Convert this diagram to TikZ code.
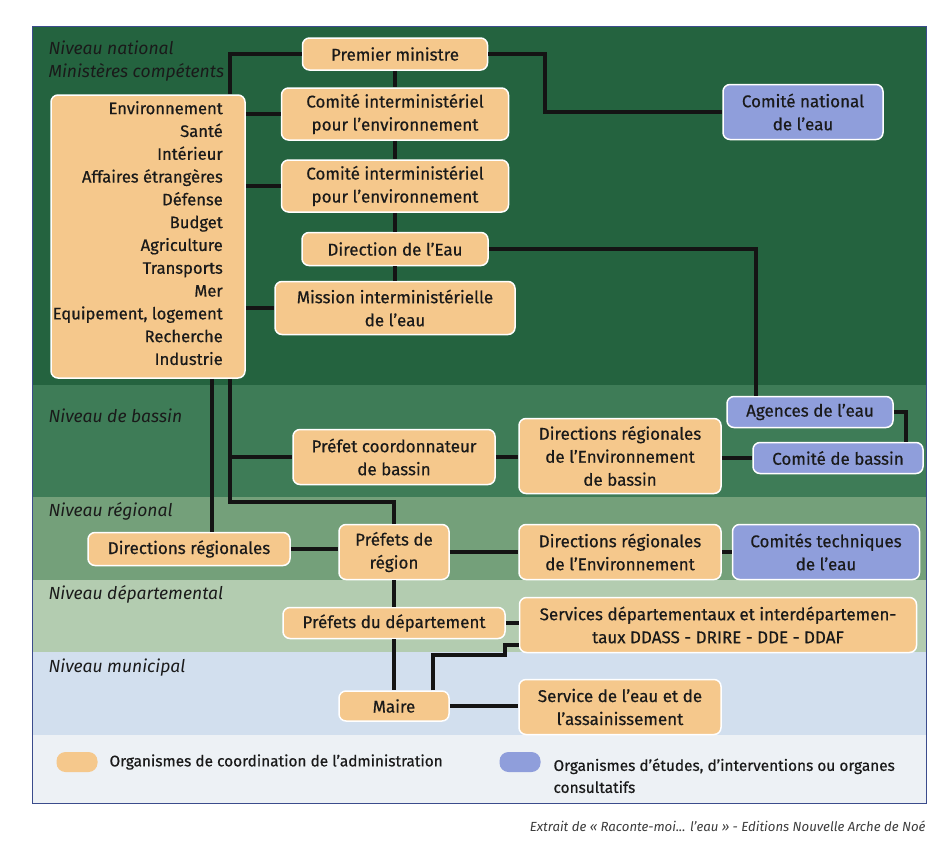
\documentclass[tikz,border=0pt]{standalone}
\usepackage{fontspec}
\setmainfont{Fira Sans}
\newfontfamily\boxfont{Fira Sans}[FakeBold=0.5]
\usetikzlibrary{calc}

\definecolor{natgreen}{HTML}{24633F}
\definecolor{basgreen}{HTML}{3E7C57}
\definecolor{reggreen}{HTML}{74A07A}
\definecolor{depgreen}{HTML}{B3CCB0}
\definecolor{munblue}{HTML}{D2DFEE}
\definecolor{legbg}{HTML}{EDF1F5}
\definecolor{orgfill}{HTML}{F5C88C}
\definecolor{blufill}{HTML}{8F9EDB}
\definecolor{linkdark}{HTML}{141414}
\definecolor{txtdark}{HTML}{1A1A1A}
\definecolor{frameblue}{HTML}{3B4C8C}

\tikzset{
  orgbox/.style={draw=white, line width=1.5pt, fill=orgfill, rounded corners=7pt,
    align=center, inner sep=0pt, text=txtdark, font=\boxfont\fontsize{17}{23}\selectfont},
  blubox/.style={orgbox, fill=blufill},
  link/.style={line width=3.5pt, draw=linkdark},
  level/.style={anchor=west, text=txtdark, font=\fontsize{17.5}{23}\selectfont\itshape},
  swatch/.style={fill=#1, rounded corners=9pt, minimum width=41pt, minimum height=20pt, inner sep=0pt}
}

\begin{document}
\begin{tikzpicture}[x=1pt,y=-1pt]
    \useasboundingbox (0,0) rectangle (935,841);
    \fill[white] (0,0) rectangle (935,841);

    % bands
    \fill[natgreen] (32,26) rectangle (926,385);
    \fill[basgreen] (32,385) rectangle (926,497);
    \fill[reggreen] (32,497) rectangle (926,580);
    \fill[depgreen] (32,580) rectangle (926,652);
    \fill[munblue] (32,652) rectangle (926,735);
    \fill[legbg] (32,735) rectangle (926,803);
    \draw[frameblue, line width=1pt] (32,26) rectangle (926,803);

    \node[level] (lnat) at (45,48) {Niveau national};
    \node[level] (lmin) at (45,72) {Ministères compétents};
    \node[level] (lbas) at (45,416) {Niveau de bassin};
    \node[level] (lreg) at (45,511) {Niveau régional};
    \node[level] (ldep) at (45,594) {Niveau départemental};
    \node[level] (lmun) at (45,668) {Niveau municipal};

    % national
    \node[orgbox, minimum width=185pt, minimum height=32pt] (pm) at (395,54) {Premier ministre};
    \node[orgbox, minimum width=227pt, minimum height=52pt] (ci1) at (395,114) {Comité interministériel\\pour l’environnement};
    \node[orgbox, minimum width=227pt, minimum height=52pt] (ci2) at (395,186) {Comité interministériel\\pour l’environnement};
    \node[orgbox, minimum width=186pt, minimum height=33pt] (dir) at (395,249) {Direction de l’Eau};
    \node[orgbox, minimum width=240pt, minimum height=53pt] (mis) at (395,308) {Mission interministérielle\\de l’eau};
    \node[orgbox, minimum width=194pt, minimum height=283pt] (min) at (148,236.5) {};
    \node[anchor=north east, align=right, inner sep=0pt, text=txtdark,
      font=\boxfont\fontsize{16.6}{22.8}\selectfont] (mintxt) at (223,101)
      {Environnement\\Santé\\Intérieur\\Affaires étrangères\\Défense\\Budget\\Agriculture\\Transports\\Mer\\Equipement, logement\\Recherche\\Industrie};
    \node[blubox, minimum width=160pt, minimum height=55pt] (cne) at (803,112) {Comité national\\de l’eau};

    % bassin
    \node[blubox, minimum width=166pt, minimum height=31pt] (agc) at (810,412) {Agences de l’eau};
    \node[blubox, minimum width=170pt, minimum height=31pt] (cdb) at (838,458) {Comité de bassin};
    \node[orgbox, minimum width=202pt, minimum height=55pt] (pcb) at (394,457) {Préfet coordonnateur\\de bassin};
    \node[orgbox, minimum width=202pt, minimum height=75pt] (dreb) at (620,456) {Directions régionales\\de l’Environnement\\de bassin};

    % regional
    \node[orgbox, minimum width=202pt, minimum height=33pt] (drg) at (189,549) {Directions régionales};
    \node[orgbox, minimum width=110pt, minimum height=55pt] (pr) at (394,552) {Préfets de\\région};
    \node[orgbox, minimum width=202pt, minimum height=55pt] (dre) at (620,552) {Directions régionales\\de l’Environnement};
    \node[blubox, minimum width=187pt, minimum height=55pt] (cte) at (826,552) {Comités techniques\\de l’eau};

    % departemental, municipal
    \node[orgbox, minimum width=222pt, minimum height=31pt] (pd) at (394,623) {Préfets du département};
    \node[orgbox, minimum width=397pt, minimum height=55pt] (sd) at (718,625) {Services départementaux et interdépartemen-\\taux DDASS - DRIRE - DDE - DDAF};
    \node[orgbox, minimum width=110pt, minimum height=30pt] (mai) at (394,706) {Maire};
    \node[orgbox, minimum width=202pt, minimum height=55pt] (se) at (620,707) {Service de l’eau et de\\l’assainissement};

    % connectors
    \coordinate (trkL) at (212,0);
    \coordinate (trkR) at (230,0);
    \coordinate (bA) at (545,0);
    \coordinate (bB) at (756,0);
    \coordinate (bC) at (906,0);
    \coordinate (bD) at (0,502);
    \coordinate (bE) at (433,655);
    \coordinate (bF) at (505,645);

    \draw[link] (pm.west) -| (min.north -| trkR);
    \draw[link] (pm.east) -| (bA |- cne.west) -- (cne.west);
    \draw[link] (pm.south) -- (ci1.north);
    \draw[link] (ci1.south) -- (ci2.north);
    \draw[link] (ci2.south) -- (dir.north);
    \draw[link] (dir.south) -- (mis.north);
    \draw[link] (min.east |- ci1.west) -- (ci1.west);
    \draw[link] (min.east |- ci2.west) -- (ci2.west);
    \draw[link] (min.east |- mis.west) -- (mis.west);
    \draw[link] (dir.east) -| (bB |- agc.north);
    \draw[link] (agc.east) -| (bC |- cdb.north);

    \draw[link] (min.south -| trkL) -- (drg.north -| trkL);
    \draw[link] (min.south -| trkR) -- (trkR |- bD) -| (pr.north);
    \draw[link] (trkR |- pcb.west) -- (pcb.west);
    \draw[link] (pcb.east) -- (dreb.west |- pcb.east);
    \draw[link] (dreb.east |- cdb.west) -- (cdb.west);

    \draw[link] (drg.east) -- (pr.west |- drg.east);
    \draw[link] (pr.east) -- (dre.west);
    \draw[link] (dre.east) -- (cte.west);
    \draw[link] (pr.south) -- (pd.north);
    \draw[link] (pd.south) -- (mai.north);
    \draw[link] (pd.east) -- (sd.west |- pd.east);
    \draw[link] (mai.north -| bE) -- (bE) -| (bF) -- (bF -| sd.west);
    \draw[link] (mai.east) -- (se.west |- mai.east);

    % legend
    \node[swatch=orgfill] (swo) at (77,762) {};
    \node[anchor=west, text=txtdark, font=\boxfont\fontsize{15.4}{22}\selectfont] (lego) at (106,762) {Organismes de coordination de l’administration};
    \node[swatch=blufill] (swb) at (520,762) {};
    \node[anchor=north west, align=left, text=txtdark, font=\boxfont\fontsize{15.4}{22}\selectfont] (legb) at (550,755) {Organismes d’études, d’interventions ou organes\\consultatifs};

    \node[anchor=east, text=txtdark!85, font=\fontsize{13.2}{15}\selectfont\itshape] (src) at (929,826) {Extrait de « Raconte-moi... l’eau » - Editions Nouvelle Arche de Noé};
\end{tikzpicture}
\end{document}
